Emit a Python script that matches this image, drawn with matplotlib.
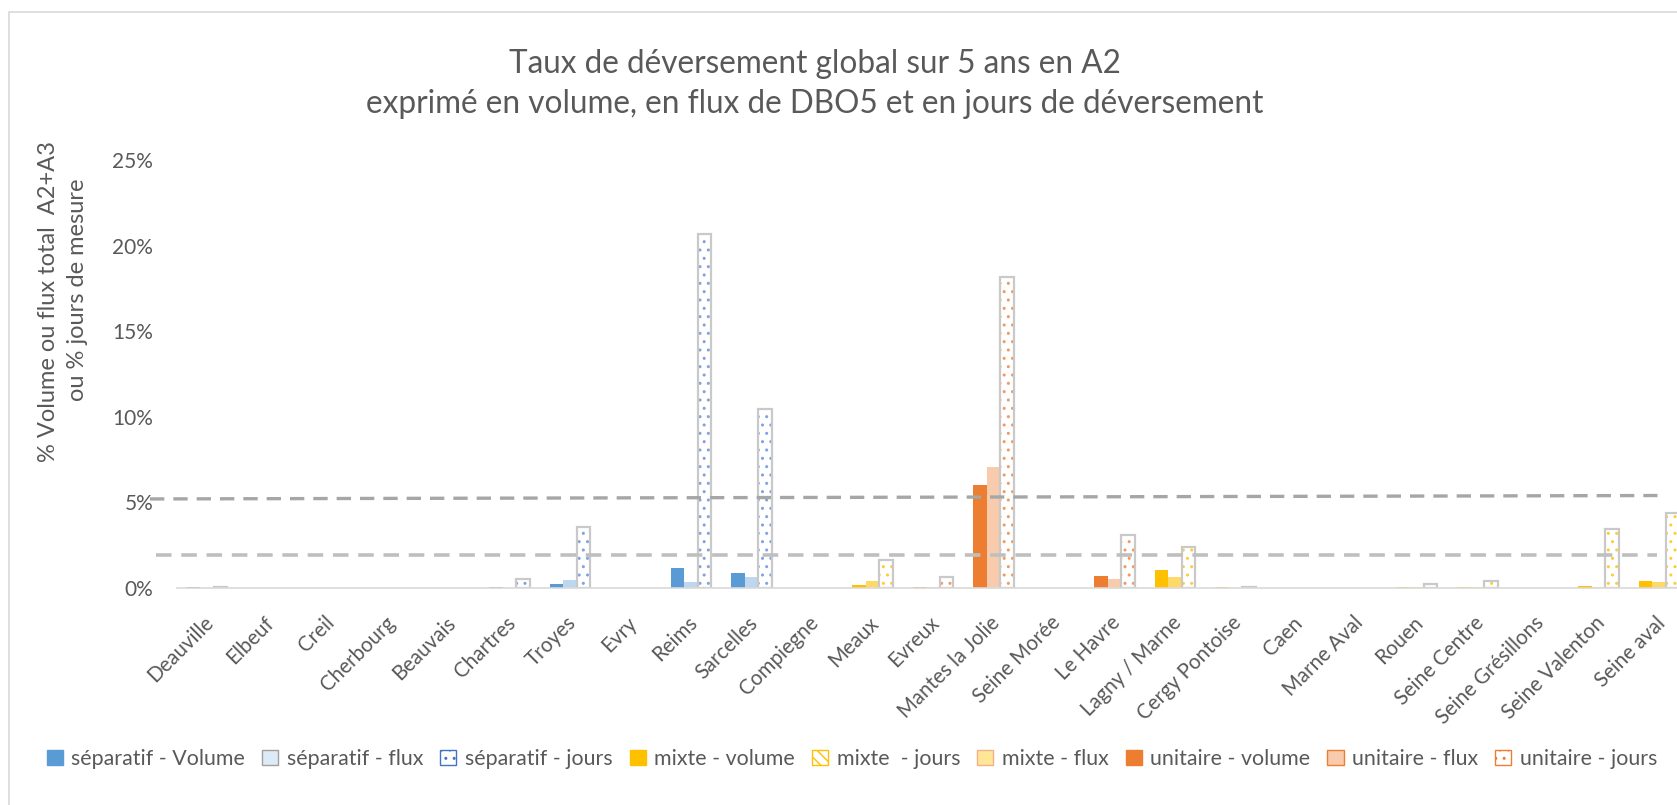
import matplotlib
matplotlib.use("Agg")
import matplotlib.pyplot as plt
from matplotlib.patches import Patch, Rectangle
from matplotlib.transforms import ScaledTranslation
import numpy as np

plt.rcParams['font.family'] = ['Lato', 'DejaVu Sans']
plt.rcParams['hatch.linewidth'] = 1.0

# ---------------- data ----------------
categories = ["Deauville", "Elbeuf", "Creil", "Cherbourg", "Beauvais", "Chartres",
              "Troyes", "Evry", "Reims", "Sarcelles", "Compiegne", "Meaux", "Evreux",
              "Mantes la Jolie", "Seine Morée", "Le Havre", "Lagny / Marne",
              "Cergy Pontoise", "Caen", "Marne Aval", "Rouen", "Seine Centre",
              "Seine Grésillons", "Seine Valenton", "Seine aval"]
# network type: S = séparatif, M = mixte, U = unitaire
network = ["S", "S", "S", "S", "S", "S", "S", "S", "S", "S", "S", "M", "U",
           "U", "U", "U", "M", "M", "M", "M", "M", "M", "M", "M", "M"]
# values in %
volume = [0.03, 0, 0, 0, 0, 0.05, 0.25, 0, 1.15, 0.86, 0, 0.16, 0.05,
          6.0, 0, 0.68, 1.03, 0.03, 0, 0, 0.03, 0.03, 0, 0.10, 0.39]
flux = [0, 0, 0, 0, 0, 0, 0.45, 0, 0.33, 0.62, 0, 0.39, 0.03,
        7.05, 0, 0.51, 0.62, 0, 0, 0, 0.03, 0.03, 0, 0.08, 0.33]
jours = [0.07, 0, 0, 0, 0, 0.55, 3.58, 0, 20.7, 10.45, 0, 1.65, 0.66,
         18.15, 0, 3.1, 2.38, 0.06, 0, 0, 0.22, 0.43, 0, 3.46, 4.4]
yticks = [0, 5, 10, 15, 20, 25]
ytick_labels = ["0%", "5%", "10%", "15%", "20%", "25%"]
seuil_haut = (5.2, 5.4)   # upper dashed reference line (left, right)
seuil_bas = (1.93, 1.93)  # lower dashed reference line

title1 = "Taux de déversement global sur 5 ans en A2"
title2 = "exprimé en volume, en flux de DBO5 et en jours de déversement"
ylabel1 = "% Volume ou flux total  A2+A3"
ylabel2 = "ou % jours de mesure"

legend_labels = ["séparatif - Volume", "séparatif - flux", "séparatif - jours",
                 "mixte - volume", "mixte  - jours", "mixte - flux",
                 "unitaire - volume", "unitaire - flux", "unitaire - jours"]

# ---------------- style ----------------
TXT = "#595959"
col = {
    "S": dict(vol="#5B9BD5", flux="#BDD7EE", pat="#7FA3DE"),
    "M": dict(vol="#FFC000", flux="#FFD966", pat="#FFCC33"),
    "U": dict(vol="#ED7D31", flux="#F8CBAD", pat="#F19A5E"),
}

fig = plt.figure(figsize=(16.77, 8.05), dpi=100)
# chart border (cut on right/bottom like the reference)
fig.add_artist(Rectangle((9 / 1677, -0.05), 1.2, (805 - 12) / 805 + 0.05,
                         transform=fig.transFigure, fill=False,
                         edgecolor="#D9D9D9", linewidth=1.2))

ax = fig.add_axes([0.1054, 0.2696, 0.9019, 0.5317])
ax.set_xlim(-0.5, len(categories) - 0.5)
ax.set_ylim(0, 25)
ax.set_autoscale_on(False)

x = np.arange(len(categories))
w = 0.222

for key in ["S", "M", "U"]:
    idx = [i for i, n in enumerate(network) if n == key]
    c = col[key]
    xv = [x[i] - w for i in idx if volume[i] > 0]
    hv = [volume[i] for i in idx if volume[i] > 0]
    ax.bar(xv, hv, width=w, color=c["vol"], linewidth=0, zorder=3)
    xf = [x[i] for i in idx if flux[i] > 0]
    hf = [flux[i] for i in idx if flux[i] > 0]
    ax.bar(xf, hf, width=w, color=c["flux"], linewidth=0, zorder=3)
    xj = [x[i] + w for i in idx if jours[i] > 0]
    hj = [jours[i] for i in idx if jours[i] > 0]
    ax.bar(xj, hj, width=w, facecolor="white", edgecolor=c["pat"], hatch="..",
           linewidth=0, zorder=3)
    ax.bar(xj, hj, width=w, fill=False, edgecolor="#C9C9C9", linewidth=1.6,
           zorder=4)

# reference dashed lines (x in axes fraction, y in data)
ytr = ax.get_yaxis_transform()
ax.plot([-0.0177, 0.979], list(seuil_haut), color="#A6A6A6", lw=2.4,
        ls=(0, (4.3, 2.7)), clip_on=False, zorder=5, transform=ytr)
ax.plot([-0.0137, 0.979], list(seuil_bas), color="#BFBFBF", lw=2.6,
        ls=(0, (4.3, 2.7)), clip_on=False, zorder=5, transform=ytr)

for s in ["top", "right", "left"]:
    ax.spines[s].set_visible(False)
ax.spines["bottom"].set_color("#D9D9D9")
ax.spines["bottom"].set_linewidth(1.2)
ax.spines["bottom"].set_zorder(6)

ax.set_yticks(yticks)
ax.set_yticklabels(ytick_labels)
ax.tick_params(axis="y", length=0, labelsize=15, labelcolor=TXT, pad=17)
ax.set_xticks(x)
ax.set_xticklabels(categories, rotation=45, ha="right", va="top",
                   rotation_mode="anchor")
ax.tick_params(axis="x", length=0, labelsize=14.8, labelcolor=TXT, pad=12)
off = ScaledTranslation(-0.04, -0.08, fig.dpi_scale_trans)
for lab in ax.get_xticklabels():
    lab.set_transform(lab.get_transform() + off)

# titles
fig.text(0.486, 0.9205, title1, ha="center", va="center", fontsize=22.7, color=TXT)
fig.text(0.486, 0.871, title2, ha="center", va="center", fontsize=22.7, color=TXT)
# y label (two lines)
fig.text(0.029, 0.625, ylabel1, rotation=90, ha="center", va="center",
         fontsize=17, color=TXT)
fig.text(0.0465, 0.64, ylabel2, rotation=90, ha="center", va="center",
         fontsize=17, color=TXT)

# legend
handles = [
    Patch(facecolor="#5B9BD5", edgecolor="#5B9BD5"),
    Patch(facecolor="#DDEBF7", edgecolor="#A0A0A0"),
    Patch(facecolor="white", edgecolor="#4472C4", hatch=".."),
    Patch(facecolor="#FFC000", edgecolor="#FFC000"),
    Patch(facecolor="white", edgecolor="#FFC000", hatch="\\\\\\"),
    Patch(facecolor="#FFE699", edgecolor="#F4B183"),
    Patch(facecolor="#ED7D31", edgecolor="#ED7D31"),
    Patch(facecolor="#F8CBAD", edgecolor="#ED7D31"),
    Patch(facecolor="white", edgecolor="#ED7D31", hatch=".."),
]
leg = fig.legend(handles, legend_labels, loc="center", bbox_to_anchor=(0.508, 0.057),
                 ncol=9, frameon=False, fontsize=15.4, handlelength=0.75,
                 handleheight=0.75, handletextpad=0.4, columnspacing=0.8,
                 borderaxespad=0)
for t in leg.get_texts():
    t.set_color(TXT)

fig.savefig("out.png", dpi=100)
